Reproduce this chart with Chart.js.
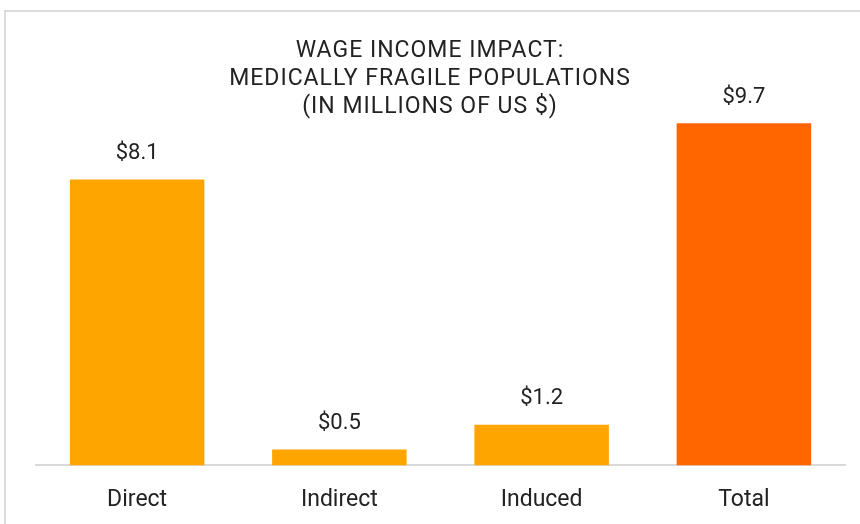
<!doctype html>
<html>

<head>
    <title>Wage Income Impact</title>
    <meta name="viewport" content="width=device-width, initial-scale=1">
    <script src="https://cdn.jsdelivr.net/npm/chart.js"></script>
    <style>
        body {
            margin: 0;
            background-color: white;
            font-family: Roboto
        }

        #wrap {
            position: relative;
            width: 860px;
            height: 524px;
        }
    </style>
</head>

<body>
    <div id="wrap"><canvas id="chart"></canvas></div>
    <script>
        const categories = ['Direct', 'Indirect', 'Induced', 'Total']
        const values = [8.1, 0.45, 1.15, 9.7]
        const barColors = ['#FFA500', '#FFA500', '#FFA500', '#FF6600']
        const titleLines = ['WAGE INCOME IMPACT:', 'MEDICALLY FRAGILE POPULATIONS', '(IN MILLIONS OF US $)']

        // frame, title and value labels drawn on the canvas
        const decorations = {
            id: 'decorations',
            beforeDraw(chart) {
                const ctx = chart.ctx
                ctx.save()
                ctx.strokeStyle = '#dcdcdc'
                ctx.lineWidth = 2
                ctx.strokeRect(5, 11, 900, 600)
                ctx.restore()
            },
            afterDatasetsDraw(chart) {
                const ctx = chart.ctx
                ctx.save()
                ctx.fillStyle = '#222'
                ctx.textAlign = 'center'
                ctx.textBaseline = 'middle'
                ctx.font = '23px Roboto'
                ctx.letterSpacing = '1px'
                titleLines.forEach((line, i) => {
                    ctx.fillText(line, 430, 51 + i * 28.3)
                })
                ctx.letterSpacing = '0px'
                ctx.font = '22px Roboto'
                chart.getDatasetMeta(0).data.forEach((bar, i) => {
                    const v = Math.round(values[i] * 10) / 10
                    ctx.fillText('$' + v.toFixed(1), bar.x, bar.y - 26)
                })
                ctx.restore()
            }
        }

        new Chart(document.getElementById('chart'), {
            type: 'bar',
            data: {
                labels: categories,
                datasets: [{
                    data: values,
                    backgroundColor: barColors,
                    categoryPercentage: 1,
                    barPercentage: 0.665
                }]
            },
            options: {
                responsive: true,
                maintainAspectRatio: false,
                animation: false,
                layout: {
                    padding: { left: 36, right: 15, top: 42, bottom: 10 }
                },
                scales: {
                    x: {
                        grid: {
                            color: 'rgba(0,0,0,0)',
                            drawOnChartArea: false,
                            drawTicks: true,
                            tickLength: 21
                        },
                        border: { color: '#d9d9d9', width: 2 },
                        ticks: {
                            color: '#222',
                            padding: 0,
                            font: { family: 'Roboto', size: 23 }
                        }
                    },
                    y: {
                        display: false,
                        min: 0,
                        max: 12
                    }
                },
                plugins: {
                    legend: { display: false },
                    tooltip: { enabled: false }
                }
            },
            plugins: [decorations]
        })
    </script>
</body>

</html>
